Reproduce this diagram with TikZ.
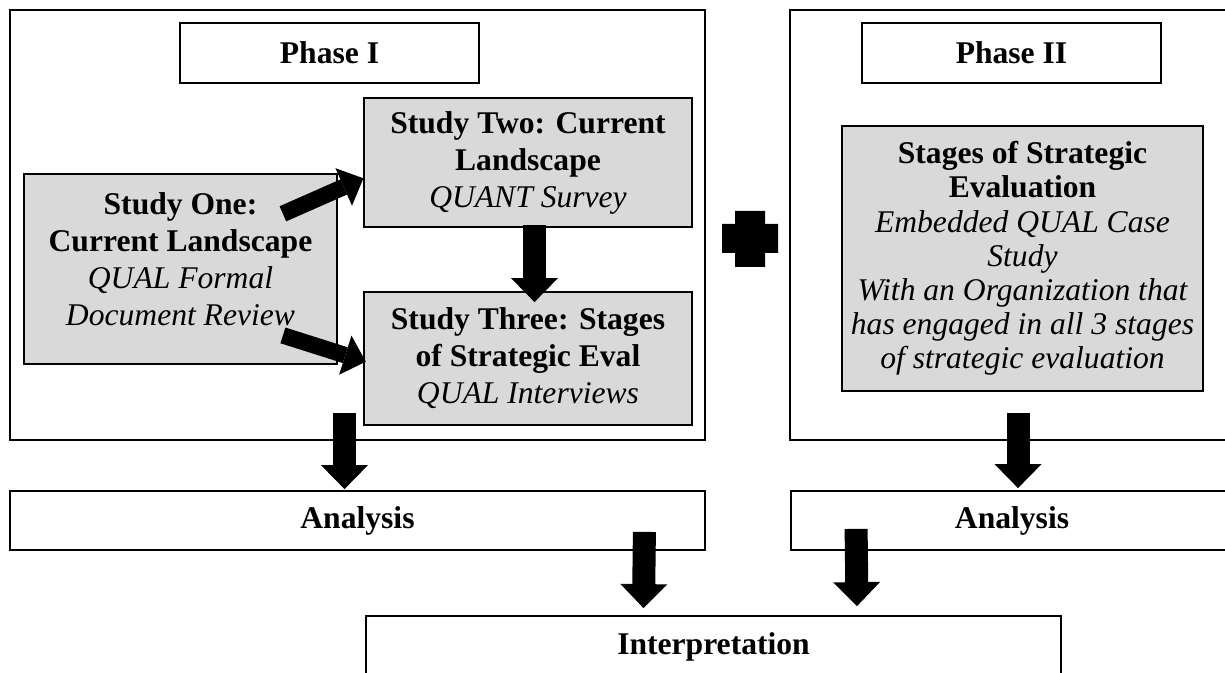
\documentclass[tikz,border=0pt]{standalone}
\usepackage{fontspec}
\setmainfont{Liberation Serif}
\usetikzlibrary{arrows.meta}
\definecolor{boxgray}{RGB}{217,217,217}
\tikzset{
  frame/.style={draw=black, line width=0.9pt, inner sep=0pt, align=center,
    font=\fontsize{15.8pt}{18.5pt}\selectfont\bfseries},
  study/.style={frame, fill=boxgray},
  fatarrow/.style={line width=11.5pt, draw=black,
    -{Triangle[width=23.5pt,length=12pt,line width=0pt]}},
  slimarrow/.style={line width=8.25pt, draw=black,
    -{Triangle[width=20.5pt,length=10.75pt,line width=0pt]}}
}
\newcommand{\sub}[1]{{\normalfont\itshape #1}}
\begin{document}
\begin{tikzpicture}[x=0.5pt,y=-0.5pt]
\useasboundingbox (0,0) rectangle (1225,673);
\clip (0,0) rectangle (1225,673);

% Phase I
\node[frame, minimum width=347.5pt, minimum height=215pt] (phase1) at (357.5,225) {};
\node[frame, minimum width=149.5pt, minimum height=30pt] (title1) at (329.5,53) {Phase I};
\node[study, minimum width=156.5pt, minimum height=95pt, text depth=10pt] (s1) at (180.5,269)
  {Study One:\\Current Landscape\\\sub{QUAL Formal}\\\sub{Document Review}};
\node[study, minimum width=164pt, minimum height=64.5pt] (s2) at (528,162.5)
  {Study Two: Current\\Landscape\\\sub{QUANT Survey}};
\node[study, minimum width=164pt, minimum height=66.5pt] (s3) at (528,358.5)
  {Study Three: Stages\\of Strategic Eval\\\sub{QUAL Interviews}};

% Phase II
\node[frame, minimum width=221.5pt, minimum height=215pt] (phase2) at (1011.5,225) {};
\node[frame, minimum width=149.5pt, minimum height=30pt] (title2) at (1011.5,53) {Phase II};
\node[study, minimum width=180.5pt, minimum height=132.5pt,
  font=\fontsize{15.8pt}{17.1pt}\selectfont\bfseries] (st) at (1022.5,258.5)
  {Stages of Strategic\\Evaluation\\\sub{Embedded QUAL Case}\\\sub{Study}\\
   \sub{With an Organization that}\\\sub{has engaged in all 3 stages}\\
   \sub{of strategic evaluation}};

% plus sign between the phases
\fill[black] (735,211) rectangle (765,267) (722,224) rectangle (778,253);

% analysis and interpretation
\node[frame, minimum width=347.5pt, minimum height=29.5pt] (an1) at (357.5,520.5) {Analysis};
\node[frame, minimum width=221pt, minimum height=29.5pt] (an2) at (1012,520.5) {Analysis};
\node[frame, minimum width=347.5pt, minimum height=31pt] (interp) at (713.5,647) {Interpretation};

% connectors
\draw[slimarrow] ([shift={(-55,40.7)}]s1.north east) -- ([shift={(0.3,15.8)}]s2.west);
\draw[slimarrow] ([shift={(-55,-29.5)}]s1.south east) -- ([shift={(2.7,3.2)}]s3.west);
\draw[fatarrow] ([shift={(6.5,-3)}]s2.south) -- ([shift={(6.5,11)}]s3.north);
\draw[fatarrow] ([shift={(-13,-28)}]phase1.south) -- ([shift={(-13,-1)}]an1.north);
\draw[fatarrow] ([shift={(6.5,-28)}]phase2.south) -- ([shift={(6,-2)}]an2.north);
\draw[fatarrow] ([shift={(-61.5,-19)}]an1.south east) -- ([shift={(-70,-7)}]interp.north);
\draw[fatarrow] ([shift={(66,-22)}]an2.south west) -- ([shift={(143.5,-9)}]interp.north);
\end{tikzpicture}
\end{document}
